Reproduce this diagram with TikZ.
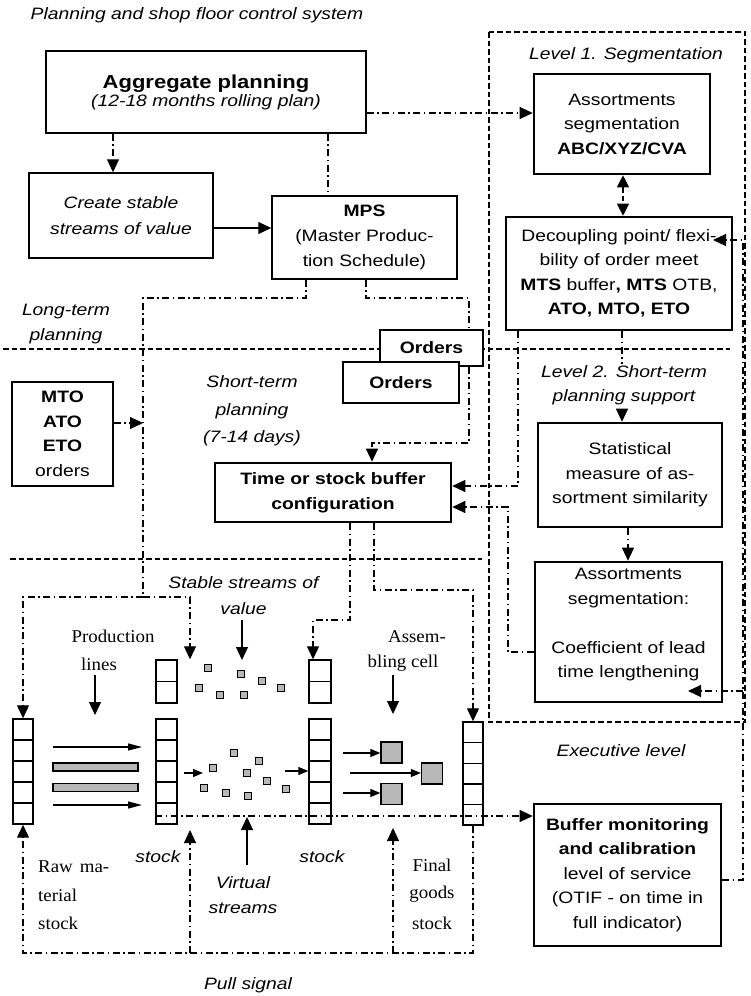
\documentclass[tikz,border=0pt]{standalone}
\usepackage{fontspec}
\setmainfont{Liberation Sans}[FakeStretch=1.17]
\newfontfamily\serfam{Liberation Serif}[FakeStretch=1.05]
\usetikzlibrary{arrows.meta}
\begin{document}
\begin{tikzpicture}[x=1pt,y=-1pt,
  every node/.style={font=\fontsize{16.5}{24.5}\selectfont},
  box/.style={draw, line width=1.5pt, fill=white, align=center, inner sep=0pt},
  tbox/.style={box, line width=2.6pt},
  lbl/.style={align=center, inner sep=1pt},
  itl/.style={lbl, font=\fontsize{16.5}{24.5}\selectfont\itshape},
  ser/.style={inner sep=0pt, font=\serfam\fontsize{18}{24}\selectfont},
  dd/.style={line width=1.1pt, dash pattern=on 7pt off 3.5pt on 1.5pt off 3.5pt},
  dsh/.style={line width=1.1pt, dash pattern=on 5.5pt off 3pt},
  ln/.style={line width=1.2pt},
  tip/.style={-{Triangle[length=13pt,width=12pt]}},
  tipb/.style={{Triangle[length=12pt,width=12pt]}-{Triangle[length=12pt,width=12pt]}},
  stip/.style={-{Triangle[length=10pt,width=8pt]}},
  ptip/.style={-{Triangle[length=14pt,width=7pt]}},
  cell/.style={draw, line width=1.4pt, fill=white, minimum width=20pt, minimum height=21pt, inner sep=0pt},
  chip/.style={draw, line width=1.3pt, fill=black!28, minimum size=7.5pt, inner sep=0pt},
  part/.style={draw, line width=1.3pt, fill=black!28, minimum size=21pt, inner sep=0pt},
  bar/.style={draw, line width=1.3pt, fill=black!28, minimum width=85pt, minimum height=8pt, inner sep=0pt},
]
\useasboundingbox (0,0) rectangle (751,996);

% planning horizon separators and the segmentation frame
\draw[dsh] (3,349) -- (730,349);
\draw[dsh] (10,559) -- (482,559);
\draw[dsh] (489,32) rectangle (745,722);

% ---- planning boxes
\node[box, minimum width=320pt, minimum height=82pt, font=\fontsize{16.5}{18}\selectfont] (agg) at (206,92)
  {{\fontsize{18.8}{19}\selectfont\bfseries Aggregate planning}\\\itshape(12-18 months rolling plan)};
\node[box, minimum width=184pt, minimum height=85pt, font=\fontsize{16.5}{26}\selectfont\itshape] (crt) at (121,215.5)
  {Create stable\\streams of value};
\node[box, minimum width=185pt, minimum height=83pt, font=\fontsize{16.5}{25}\selectfont] (mps) at (364.5,237.5)
  {\textbf{MPS}\\(Master Produc-\\tion Schedule)};
\node[box, minimum width=103pt, minimum height=36pt] (ord2) at (431.5,348) {\textbf{Orders}};
\node[box, minimum width=116pt, minimum height=41pt] (ord1) at (401,382.5) {\textbf{Orders}};
\node[box, minimum width=101pt, minimum height=104pt] (mto) at (62.5,434)
  {\textbf{MTO}\\\textbf{ATO}\\\textbf{ETO}\\orders};
\node[tbox, minimum width=236pt, minimum height=59pt, font=\fontsize{16.5}{25}\selectfont] (time) at (333,492.5)
  {\textbf{Time or stock buffer}\\\textbf{configuration}};

% ---- segmentation and support boxes
\node[tbox, minimum width=176pt, minimum height=100pt] (as1) at (622,124)
  {Assortments\\segmentation\\\textbf{ABC/XYZ/CVA}};
\node[tbox, minimum width=226pt, minimum height=113pt] (dec) at (619,273.5)
  {Decoupling point/ flexi-\\bility of order meet\\\textbf{MTS} buffer\textbf{,} \textbf{MTS} OTB,\\\textbf{ATO, MTO, ETO}};
\node[tbox, minimum width=184pt, minimum height=104pt] (stat) at (630,475)
  {Statistical\\measure of as-\\sortment similarity};
\node[tbox, minimum width=187pt, minimum height=140pt] (as2) at (628.5,632) {};
\node[lbl] at ([yshift=7pt]as2.center)
  {Assortments\\segmentation:\\[24.5pt]Coefficient of lead\\time lengthening};
\node[tbox, minimum width=187pt, minimum height=142pt] (buf) at (627.5,875)
  {\textbf{Buffer monitoring}\\\textbf{and calibration}\\level of service\\(OTIF - on time in\\full indicator)};

% ---- stock columns
\foreach \i in {0,...,4} {
  \node[cell] (a\i) at (23,729.5+21*\i) {};
  \node[cell, minimum width=21pt] (e\i) at (166.5,729.5+21*\i) {};
  \node[cell, minimum width=22pt] (f\i) at (320,729.5+21*\i) {};
  \node[cell, minimum height=20.6pt] (d\i) at (473,732.3+20.6*\i) {};
}
\foreach \i in {0,1} {
  \node[cell, minimum width=21pt, minimum height=21.5pt] (b\i) at (166.5,670.75+21.5*\i) {};
  \node[cell, minimum width=22pt, minimum height=21.5pt] (c\i) at (320,670.75+21.5*\i) {};
}

% production lines
\node[bar] (bar1) at (95.5,767) {};
\node[bar] (bar2) at (95.5,787.5) {};
\draw[ln,ptip] (53,747) -- (142,747);
\draw[ln,ptip] (53,805) -- (142,805);

% value streams (upper) and virtual streams (lower)
\foreach \p [count=\k] in {(208,668),(241,674),(262,681),(199,688),(220,695),(244,695),(281,688)}
  \node[chip] (u\k) at \p {};
\foreach \p [count=\k] in {(213,768),(234,753),(259,761),(247,773),(267,781),(204,788),(226,793),(248,796),(286,789)}
  \node[chip] (v\k) at \p {};
\draw[ln,stip] (e2.east |- 0,773) ++(6,0) -- (203,773);
\draw[ln,stip] (285,771) -- (f2.west |- 0,771);

% assembling cell
\node[part] (p1) at (391.5,752.5) {};
\node[part] (p2) at (391.5,794) {};
\node[part] (p3) at (432,773.5) {};
\draw[ln,stip] (343,753) -- (p1.west |- 0,753);
\draw[ln,stip] (343,793) -- (p2.west |- 0,793);
\draw[ln,stip] (350,773) -- (p3.west |- 0,773);

% ---- information flows
\draw[dd,tip] (113,0 |- agg.south) -- (113,0 |- crt.north);
\draw[dd] (328,0 |- agg.south) -- (328,0 |- mps.north);
\draw[ln,tip] (crt.east |- 0,228) -- (mps.west |- 0,228);
\draw[dd,tip] (agg.east |- 0,113) -- (as1.west |- 0,113);
\draw[dsh,tipb] (623,0 |- as1.south) -- (623,0 |- dec.north);
\draw[dd,tip] (622,0 |- dec.south) -- (622,0 |- stat.north);
\draw[dd,tip] (628,0 |- stat.south) -- (628,0 |- as2.north);
\draw[dd,tip] (518,0 |- dec.south) -- (518,486) -- (time.east |- 0,486);
\draw[dd,tip] (as2.west |- 0,652) -- (508,652) -- (508,507) -- (time.east |- 0,507);

% feedback from buffer monitoring
\coordinate (decin) at (713,240);
\coordinate (as2in) at (688,691);
\coordinate (fbk) at (743,880);
\draw[dd,tip] (buf.east |- fbk) -- (fbk) -- (fbk |- decin) -- (decin);
\draw[dd,tip] (fbk |- as2in) -- (as2in);

% MPS towards the shop floor
\coordinate (jl) at (143,597);
\draw[dd] (306,0 |- mps.south) -- (306,298) -- (143,298) -- (jl);
\draw[dd,tip] (jl) -- (23,597) -- (23,0 |- a0.north);
\draw[dd,tip] (jl) -- (190,597) -- (190,0 |- b0.north);
\draw[dd,tip] (mto.east |- 0,423) -- (143,423);
\draw[dd] (366,0 |- mps.south) -- (366,298) -- (469,298) -- (469,0 |- ord2.north);
\draw[dd,tip] (469,0 |- ord2.south) -- (469,443) -- (372,443) -- (372,0 |- time.north);

% buffer configuration towards the stocks
\draw[dd,tip] (350,0 |- time.south) -- (350,620) -- (313,620) -- (313,0 |- c0.north);
\draw[dd,tip] (374,0 |- time.south) -- (374,590) -- (473,590) -- (473,0 |- d0.north);

% pull signal loop
\draw[dd,tip] (e4.west |- 0,816) -- (buf.west |- 0,816);
\coordinate (pl) at (23,953);
\draw[dd,tip] (d4.south) -- (473,953) -- (pl) -- (23,0 |- a4.south);
\draw[dd,tip] (190,953) -- (190,830);
\draw[dd,tip] (393,953) -- (393,828);

% ---- labels
\node[itl] at (197,15) {Planning and shop floor control system};
\node[itl] at (626,55) {Level 1. Segmentation};
\node[itl, fill=white, font=\fontsize{16.5}{24}\selectfont\itshape] at (624,385) {Level 2. Short-term\\planning support};
\node[itl, font=\fontsize{16.5}{25}\selectfont\itshape] at (66,324.5) {Long-term\\planning};
\node[itl, font=\fontsize{16.5}{27.5}\selectfont\itshape] at (252,411) {Short-term\\planning\\(7-14 days)};
\node[itl, font=\fontsize{16.5}{26}\selectfont\itshape] (ssv) at (243.5,596) {Stable streams of\\value};
\node[itl, font=\fontsize{16.5}{25}\selectfont\itshape] (virt) at (243,895.5) {Virtual\\streams};
\node[itl] at (158,857) {stock};
\node[itl] at (322,857) {stock};
\node[itl] at (621,751) {Executive level};
\node[itl] at (248,985) {Pull signal};

\node[ser] at (113,636) {Production};
\node[ser] (lines) at (99,664) {lines};
\node[ser] at (417,637) {Assem-};
\node[ser] (bling) at (403,663) {bling cell};
\node[ser, anchor=west] at (38,867) {Raw\hspace{7pt}ma-};
\node[ser, anchor=west] at (38,895) {terial};
\node[ser, anchor=west] at (38,923) {stock};
\node[ser] at (432,865) {Final};
\node[ser] at (432,894) {goods};
\node[ser] at (432,923) {stock};

% pointers from the labels
\draw[ln,tip] (95,675) -- (95,715);
\draw[ln,tip] (242,620) -- (242,660);
\draw[ln,tip] (393,675) -- (393,714);
\draw[ln,tip] (247,865) -- (247,817);
\end{tikzpicture}
\end{document}
